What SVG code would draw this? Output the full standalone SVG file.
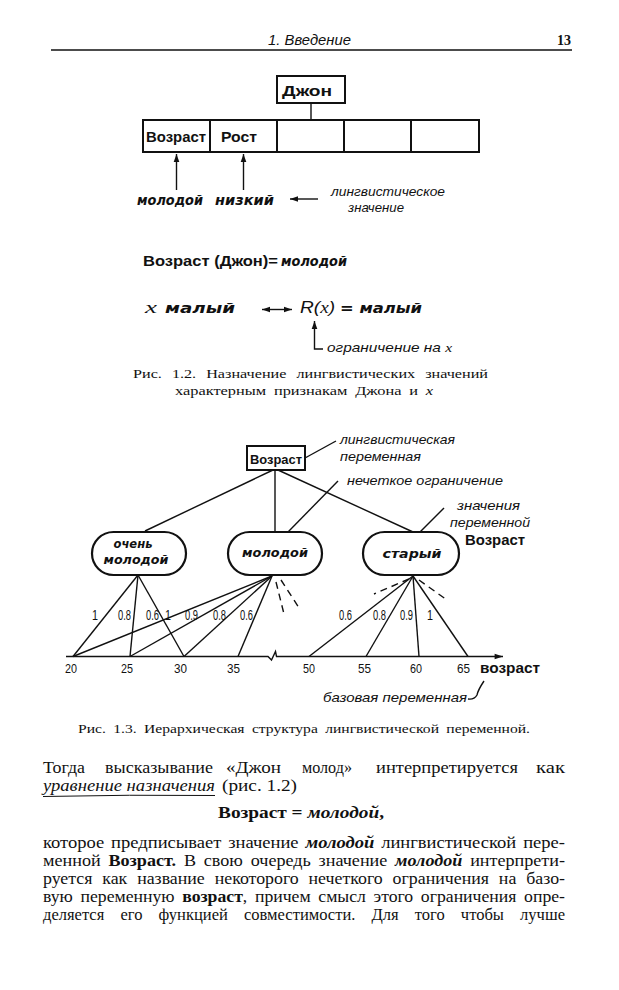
<svg xmlns="http://www.w3.org/2000/svg" width="619" height="990" viewBox="0 0 619 990">
<style>
.ln{stroke:#111;stroke-width:1.4;fill:none}
.dl{stroke:#111;stroke-width:1.4;fill:none;stroke-dasharray:7 5}
.bx{stroke:#111;stroke-width:2;fill:#fff}
.ov{stroke:#111;stroke-width:2.2;fill:#fff}
text{fill:#111}
.sb{font-family:"Liberation Sans",Arial,sans-serif;font-weight:bold}
.si{font-family:"Liberation Sans",Arial,sans-serif;font-style:italic}
.sbi{font-family:"DejaVu Sans","Liberation Sans",sans-serif;font-weight:bold;font-style:italic}
.num{font-family:"Liberation Sans",Arial,sans-serif;font-size:14px}
.ax{font-family:"Liberation Sans",Arial,sans-serif;font-size:13px}
.ser{font-family:"Liberation Serif","Times New Roman",serif}
.body{font-family:"Liberation Serif","Times New Roman",serif;font-size:16.5px}
.cap{font-family:"Liberation Serif","Times New Roman",serif;font-size:13.5px}
</style>
<defs>
<marker id="ah" viewBox="0 0 10 10" refX="10" refY="5" markerWidth="8" markerHeight="8" markerUnits="userSpaceOnUse" orient="auto-start-reverse">
<path d="M0,1.5 L10,5 L0,8.5 z" fill="#111"/>
</marker>
<marker id="ah2" viewBox="0 0 12 10" refX="12" refY="5" markerWidth="12" markerHeight="7" markerUnits="userSpaceOnUse" orient="auto">
<path d="M0,1 L12,5 L0,9 z" fill="#111"/>
</marker>
</defs>
<rect width="619" height="990" fill="#fff"/>

<!-- page header -->
<g id="header">
<text class="si" x="268" y="45" font-size="14" textLength="83" lengthAdjust="spacingAndGlyphs">1. Введение</text>
<text class="ser" x="557" y="45" font-size="15" font-weight="bold" textLength="14" lengthAdjust="spacingAndGlyphs">13</text>
<line x1="51" y1="50" x2="572" y2="50" stroke="#111" stroke-width="1.5"/>
</g>

<!-- Figure 1.2 -->
<g id="fig12-connectors">
<line class="ln" x1="311" y1="103" x2="311" y2="120"/>
<line class="ln" x1="176.5" y1="190" x2="176.5" y2="154" marker-end="url(#ah)"/>
<line class="ln" x1="243.5" y1="190" x2="243.5" y2="154" marker-end="url(#ah)"/>
<line class="ln" x1="318" y1="199" x2="290" y2="199" marker-end="url(#ah)"/>
<line class="ln" x1="262" y1="309.5" x2="292" y2="309.5" marker-start="url(#ah)" marker-end="url(#ah)"/>
<polyline class="ln" points="323,349 314.5,349 314.5,321" marker-end="url(#ah)"/>
</g>
<g id="node-john">
<rect class="bx" x="277" y="76" width="68" height="27"/>
<text class="sb" x="282" y="96" font-size="15" textLength="50" lengthAdjust="spacingAndGlyphs">Джон</text>
</g>
<g id="node-record">
<rect class="bx" x="143" y="120" width="336" height="32"/>
<line class="bx" x1="210" y1="120" x2="210" y2="152"/>
<line class="bx" x1="277" y1="120" x2="277" y2="152"/>
<line class="bx" x1="344" y1="120" x2="344" y2="152"/>
<line class="bx" x1="411" y1="120" x2="411" y2="152"/>
<text class="sb" x="146" y="142" font-size="14" textLength="60" lengthAdjust="spacingAndGlyphs">Возраст</text>
<text class="sb" x="221" y="142" font-size="14" textLength="36" lengthAdjust="spacingAndGlyphs">Рост</text>
</g>
<g id="values12">
<text class="sbi" x="137" y="205" font-size="13.5" textLength="66" lengthAdjust="spacingAndGlyphs">молодой</text>
<text class="sbi" x="215" y="205" font-size="13.5" textLength="59" lengthAdjust="spacingAndGlyphs">низкий</text>
<text class="si" x="331" y="196" font-size="13" textLength="114" lengthAdjust="spacingAndGlyphs">лингвистическое</text>
<text class="si" x="348" y="212" font-size="13" textLength="56" lengthAdjust="spacingAndGlyphs">значение</text>
</g>
<g id="formulas12">
<text class="sb" x="143" y="266" font-size="15" textLength="135" lengthAdjust="spacingAndGlyphs">Возраст (Джон)=</text>
<text class="sbi" x="281" y="266" font-size="14" textLength="66" lengthAdjust="spacingAndGlyphs">молодой</text>
<text class="ser" x="145" y="313" font-size="17" font-style="italic" textLength="12" lengthAdjust="spacingAndGlyphs">x</text>
<text class="sbi" x="165" y="313" font-size="14" textLength="70" lengthAdjust="spacingAndGlyphs">малый</text>
<text class="si" x="300" y="313" font-size="16" textLength="35" lengthAdjust="spacingAndGlyphs">R(<tspan class="ser">x</tspan>)</text>
<text class="sbi" x="340" y="313" font-size="14" textLength="82" lengthAdjust="spacingAndGlyphs">= малый</text>
<text class="si" x="327" y="352" font-size="13.5" textLength="125" lengthAdjust="spacingAndGlyphs">ограничение на <tspan class="ser">x</tspan></text>
</g>
<g id="caption12">
<text class="cap" x="133" y="378" textLength="355" lengthAdjust="spacingAndGlyphs" word-spacing="5">Рис. 1.2. Назначение лингвистических значений</text>
<text class="cap" x="175" y="395" textLength="258" lengthAdjust="spacingAndGlyphs" word-spacing="3">характерным признакам Джона и <tspan font-style="italic">x</tspan></text>
</g>

<!-- Figure 1.3 -->
<g id="fig13-connectors">
<line class="ln" x1="273" y1="470" x2="145" y2="531"/>
<line class="ln" x1="275" y1="470" x2="275" y2="532"/>
<line class="ln" x1="278" y1="470" x2="413" y2="532"/>
<line class="ln" x1="305" y1="458" x2="336" y2="441"/>
<line class="ln" x1="338" y1="481" x2="288" y2="532"/>
<line class="ln" x1="444" y1="508" x2="420" y2="532"/>
<!-- очень молодой -->
<line class="ln" x1="138" y1="575" x2="73" y2="656.5"/>
<line class="ln" x1="138" y1="575" x2="130" y2="656.5"/>
<line class="ln" x1="138" y1="575" x2="184" y2="656.5"/>
<!-- молодой -->
<line class="ln" x1="272" y1="576" x2="73" y2="656.5"/>
<line class="ln" x1="272" y1="576" x2="130" y2="656.5"/>
<line class="ln" x1="272" y1="576" x2="184" y2="656.5"/>
<line class="ln" x1="272" y1="576" x2="238" y2="656.5"/>
<line class="dl" x1="276" y1="582" x2="283.5" y2="612"/>
<line class="dl" x1="281" y1="580" x2="298.5" y2="607"/>
<!-- старый -->
<line class="ln" x1="413" y1="576" x2="309" y2="656.5"/>
<line class="ln" x1="413" y1="576" x2="366" y2="656.5"/>
<line class="ln" x1="413" y1="576" x2="419" y2="656.5"/>
<line class="ln" x1="413" y1="576" x2="468" y2="656.5"/>
<line class="dl" x1="409" y1="579" x2="374" y2="594"/>
<line class="dl" x1="419" y1="580" x2="447" y2="600"/>
<!-- base axis -->
<path class="ln" d="M66,656.5 H268 L271.5,660 L275.5,651.5 L276.5,656.5 H503" marker-end="url(#ah2)"/>
<path class="ln" stroke-width="1" d="M468,699 Q474,700 477,695 Q478,690 484,681"/>
</g>
<g id="node-vozrast">
<rect class="bx" x="247" y="446" width="58" height="24"/>
<text class="sb" x="250" y="464" font-size="13" font-weight="600" textLength="52" lengthAdjust="spacingAndGlyphs">Возраст</text>
</g>
<g id="node-very-young">
<rect class="ov" x="92" y="532" width="94" height="43" rx="21.5"/>
<text class="sbi" x="133" y="548" font-size="12.5" text-anchor="middle" textLength="39" lengthAdjust="spacingAndGlyphs">очень</text>
<text class="sbi" x="136" y="564" font-size="13" text-anchor="middle" textLength="65" lengthAdjust="spacingAndGlyphs">молодой</text>
</g>
<g id="node-young">
<rect class="ov" x="228" y="532" width="94" height="43" rx="21.5"/>
<text class="sbi" x="275" y="557" font-size="13" text-anchor="middle" textLength="66" lengthAdjust="spacingAndGlyphs">молодой</text>
</g>
<g id="node-old">
<rect class="ov" x="363" y="532" width="96" height="43" rx="21.5"/>
<text class="sbi" x="412" y="558" font-size="13" text-anchor="middle" textLength="59" lengthAdjust="spacingAndGlyphs">старый</text>
</g>
<g id="labels13">
<text class="si" x="340" y="444" font-size="13" textLength="115" lengthAdjust="spacingAndGlyphs">лингвистическая</text>
<text class="si" x="340" y="461" font-size="13" textLength="81" lengthAdjust="spacingAndGlyphs">переменная</text>
<text class="si" x="347" y="485" font-size="13" textLength="156" lengthAdjust="spacingAndGlyphs">нечеткое ограничение</text>
<text class="si" x="457" y="510" font-size="13" textLength="63" lengthAdjust="spacingAndGlyphs">значения</text>
<text class="si" x="450" y="527" font-size="13" textLength="80" lengthAdjust="spacingAndGlyphs">переменной</text>
<text class="sb" x="465" y="545" font-size="14" textLength="60" lengthAdjust="spacingAndGlyphs">Возраст</text>
<text class="si" x="323" y="702" font-size="13" textLength="144" lengthAdjust="spacingAndGlyphs">базовая переменная</text>
</g>
<g id="grades">
<text class="num" x="92" y="620" textLength="6" lengthAdjust="spacingAndGlyphs">1</text>
<text class="num" x="118" y="620" textLength="13" lengthAdjust="spacingAndGlyphs">0.8</text>
<text class="num" x="146" y="620" textLength="13" lengthAdjust="spacingAndGlyphs">0.6</text>
<text class="num" x="165" y="620" textLength="6" lengthAdjust="spacingAndGlyphs">1</text>
<text class="num" x="185" y="620" textLength="13" lengthAdjust="spacingAndGlyphs">0.9</text>
<text class="num" x="213" y="620" textLength="13" lengthAdjust="spacingAndGlyphs">0.8</text>
<text class="num" x="240" y="620" textLength="13" lengthAdjust="spacingAndGlyphs">0.6</text>
<text class="num" x="339" y="620" textLength="13" lengthAdjust="spacingAndGlyphs">0.6</text>
<text class="num" x="373" y="620" textLength="13" lengthAdjust="spacingAndGlyphs">0.8</text>
<text class="num" x="400" y="620" textLength="13" lengthAdjust="spacingAndGlyphs">0.9</text>
<text class="num" x="427" y="620" textLength="6" lengthAdjust="spacingAndGlyphs">1</text>
</g>
<g id="axis-labels">
<text class="ax" x="65" y="673" textLength="12" lengthAdjust="spacingAndGlyphs">20</text>
<text class="ax" x="121" y="673" textLength="12" lengthAdjust="spacingAndGlyphs">25</text>
<text class="ax" x="174" y="673" textLength="13" lengthAdjust="spacingAndGlyphs">30</text>
<text class="ax" x="227" y="673" textLength="13" lengthAdjust="spacingAndGlyphs">35</text>
<text class="ax" x="303" y="673" textLength="12" lengthAdjust="spacingAndGlyphs">50</text>
<text class="ax" x="358" y="673" textLength="13" lengthAdjust="spacingAndGlyphs">55</text>
<text class="ax" x="410" y="673" textLength="12" lengthAdjust="spacingAndGlyphs">60</text>
<text class="ax" x="457" y="673" textLength="13" lengthAdjust="spacingAndGlyphs">65</text>
<text class="sb" x="480" y="673" font-size="14" textLength="60" lengthAdjust="spacingAndGlyphs">возраст</text>
</g>
<g id="caption13">
<text class="cap" x="78" y="733" textLength="452" lengthAdjust="spacingAndGlyphs" word-spacing="3">Рис. 1.3. Иерархическая структура лингвистической переменной.</text>
</g>

<!-- body text -->
<g id="body">
<text class="body" y="773"><tspan x="43" textLength="42" lengthAdjust="spacingAndGlyphs">Тогда</tspan><tspan x="105" textLength="108" lengthAdjust="spacingAndGlyphs">высказывание</tspan><tspan x="226" textLength="55" lengthAdjust="spacingAndGlyphs">«Джон</tspan><tspan x="302" textLength="50" lengthAdjust="spacingAndGlyphs">молод»</tspan><tspan x="376" textLength="142" lengthAdjust="spacingAndGlyphs">интерпретируется</tspan><tspan x="536" textLength="29" lengthAdjust="spacingAndGlyphs">как</tspan></text>
<text class="body" x="43" y="791" font-style="italic" textLength="172" lengthAdjust="spacingAndGlyphs">уравнение назначения</text>
<path d="M43,796.5 Q130,794.5 215,795.5" stroke="#111" stroke-width="1" fill="none"/>
<text class="body" x="222" y="791" textLength="75" lengthAdjust="spacingAndGlyphs">(рис. 1.2)</text>
<text class="body" x="218" y="818" font-weight="bold" textLength="166" lengthAdjust="spacingAndGlyphs">Возраст = <tspan font-style="italic">молодой</tspan>,</text>
<text class="body" x="43" y="848" word-spacing="2" textLength="522" lengthAdjust="spacingAndGlyphs">которое предписывает значение <tspan font-weight="bold" font-style="italic">молодой</tspan> лингвистической пере-</text>
<text class="body" x="43" y="866" word-spacing="3" textLength="522" lengthAdjust="spacingAndGlyphs">менной <tspan font-weight="bold">Возраст.</tspan> В свою очередь значение <tspan font-weight="bold" font-style="italic">молодой</tspan> интерпрети-</text>
<text class="body" x="43" y="884" word-spacing="5" textLength="522" lengthAdjust="spacingAndGlyphs">руется как название некоторого нечеткого ограничения на базо-</text>
<text class="body" x="43" y="902" word-spacing="3" textLength="522" lengthAdjust="spacingAndGlyphs">вую переменную <tspan font-weight="bold">возраст</tspan>, причем смысл этого ограничения опре-</text>
<text class="body" x="43" y="920" word-spacing="12" textLength="522" lengthAdjust="spacingAndGlyphs">деляется его функцией совместимости. Для того чтобы лучше</text>
</g>
</svg>
